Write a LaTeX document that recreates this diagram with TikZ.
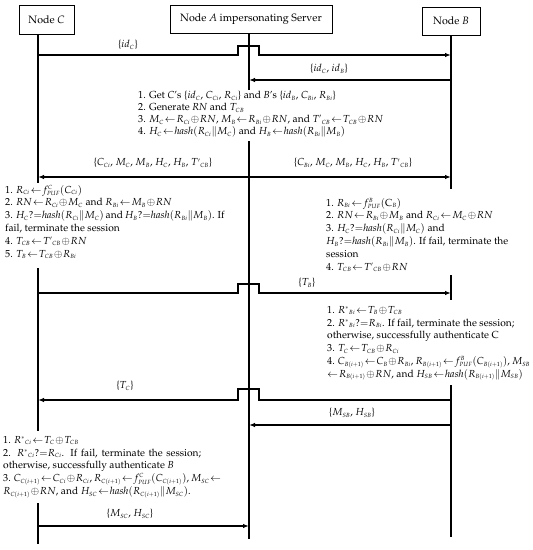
\documentclass[tikz,border=0pt]{standalone}
\usepackage[T1]{fontenc}
\usepackage{mathpazo}
\usetikzlibrary{arrows.meta}
\DeclareMathSizes{10.2}{10.2}{6}{4.7}
\thickmuskip=1.5mu plus 2mu
\medmuskip=1mu plus 1mu
\newcommand\tightls{\lineskiplimit=-20pt\relax}
\newcommand\Tp[1]{T'{}_{#1}}
\newcommand\Rs[1]{R^{*}{}_{#1}}
\tikzset{
  actor/.style={draw, line width=0.8pt, inner sep=0pt, font=\fontsize{10.7}{12}\selectfont},
  life/.style={line width=1.2pt},
  msg/.style={line width=1.2pt, -{Latex[length=6pt,width=4.5pt]}},
  dmsg/.style={line width=1.2pt, {Latex[length=6pt,width=4.5pt]}-{Latex[length=6pt,width=4.5pt]}},
  lbl/.style={inner sep=0pt, font=\fontsize{10.2}{11}\selectfont},
  txt/.style={inner sep=0pt, anchor=north west, align=left, font={\fontsize{10.2}{12.8}\selectfont\tightls}},
  txtb/.style={txt, font={\fontsize{10.2}{12}\selectfont\tightls}},
}
\begin{document}
\begin{tikzpicture}[x=1pt,y=-1pt]
\useasboundingbox (0,0) rectangle (533,550);
% actors
\node[actor, minimum width=55pt, minimum height=29pt] (C) at (46.5,19.5) {Node \textit{C}};
\node[actor, minimum width=162pt, minimum height=28pt] (A) at (251,19) {Node \textit{A} impersonating Server};
\node[actor, minimum width=58pt, minimum height=28pt] (B) at (451,21) {Node \textit{B}};
% lifeline coordinates
\coordinate (c1) at (38,183); \coordinate (c2) at (38,268); \coordinate (c3) at (38,431);
\coordinate (c4) at (38,503); \coordinate (c5) at (38,544);
\coordinate (a1) at (249,90); \coordinate (a2) at (249,141); \coordinate (a3) at (249,539);
\coordinate (b1) at (451,189); \coordinate (b2) at (451,275); \coordinate (b3) at (451,300);
\coordinate (b4) at (451,385); \coordinate (b5) at (451,537);
\draw[life] (C.south -| c1) -- (c1);
\draw[life] (c2) -- (c3);
\draw[life] (c4) -- (c5);
\draw[life] (A.south -| a1) -- (a1);
\draw[life] (a2) -- (a3);
\draw[life] (B.south -| b1) -- (b1);
\draw[life] (b2) -- (b3);
\draw[life] (b4) -- (b5);
% message endpoints
\coordinate (m1s) at (38,55); \coordinate (m1e) at (451,55);
\coordinate (m2s) at (451,80); \coordinate (m2e) at (249,80);
\coordinate (m3s) at (38,177); \coordinate (m3e) at (451,177);
\coordinate (m4s) at (38,293); \coordinate (m4e) at (451,293);
\coordinate (m5s) at (451,400); \coordinate (m5e) at (38,400);
\coordinate (m6s) at (451,425); \coordinate (m6e) at (249,425);
\coordinate (m7s) at (38,526); \coordinate (m7e) at (249,526);
% messages
\draw[msg] (m1s) -- (238,55) -- (238,46) -- (259,46) -- (259,55) -- (m1e);
\node[lbl] (l1) at (128,45) {\{$id_C$\}};
\draw[msg] (m2s) -- (m2e);
\node[lbl] (l2) at (329,69) {\{$id_C$, $id_B$\}};
\draw[dmsg] (m3s) -- (m3e);
\node[lbl] (l3a) at (153,163) {\{$C_{Ci}$, $M_C$, $M_B$, $H_C$, $H_B$, $\Tp{CB}$\}};
\node[lbl] (l3b) at (353,163) {\{$C_{Bi}$, $M_C$, $M_B$, $H_C$, $H_B$, $\Tp{CB}$\}};
\draw[msg] (m4s) -- (238,293) -- (238,284) -- (259,284) -- (259,293) -- (m4e);
\node[lbl] (l4) at (307,283) {\{$T_B$\}};
\draw[msg] (m5s) -- (259,400) -- (259,389) -- (238,389) -- (238,400) -- (m5e);
\node[lbl] (l5) at (125,386) {\{$T_C$\}};
\draw[msg] (m6s) -- (m6e);
\node[lbl] (l6) at (352,413) {\{$M_{SB}$, $H_{SB}$\}};
\draw[msg] (m7s) -- (m7e);
\node[lbl] (l7) at (130,514) {\{$M_{SC}$, $H_{SC}$\}};
% text blocks
\node[txtb] (t1) at (138,91) {%
1. Get \textit{C}'s \{$id_C$, $C_{Ci}$, $R_{Ci}$\} and \textit{B}'s \{$id_B$, $C_{Bi}$, $R_{Bi}$\}\\
2. Generate \textit{RN} and $T_{CB}$\\
3. $M_C\leftarrow R_{Ci}\oplus RN$, $M_B\leftarrow R_{Bi}\oplus RN$, and $\Tp{CB}\leftarrow T_{CB}\oplus RN$\\
4. $H_C\leftarrow \mathit{hash}(R_{Ci}\|M_C)$ and $H_B\leftarrow\mathit{hash}(R_{Bi}\|M_B)$};
\node[txt] (t2) at (5,185) {%
1. $R_{Ci}\leftarrow f^{C}_{PUF}(C_{Ci})$\\
2. $RN\leftarrow R_{Ci}\oplus M_C$ and $R_{Bi}\leftarrow M_B\oplus RN$\\
\makebox[214pt][s]{3. $H_C?{=}\mathit{hash}(R_{Ci}\|M_C)$ and $H_B?{=}\mathit{hash}(R_{Bi}\|M_B)$. If}\\
fail, terminate the session\\
4. $T_{CB}\leftarrow \Tp{CB}\oplus RN$\\
5. $T_B\leftarrow T_{CB}\oplus R_{Bi}$};
\node[txt] (t3) at (326,198) {%
1. $R_{Bi}\leftarrow f^{B}_{PUF}(\mathrm{C}_B)$\\
2. $RN\leftarrow R_{Bi}\oplus M_B$ and $R_{Ci}\leftarrow M_C\oplus RN$\\
3. $H_C?{=}\mathit{hash}(R_{Ci}\|M_C)$ and\\
$H_B?{=}\mathit{hash}(R_{Bi}\|M_B)$. If fail, terminate the\\
session\\
4. $T_{CB}\leftarrow \Tp{CB}\oplus RN$};
\node[txt] (t4) at (327,306) {%
1. $\Rs{Bi}\leftarrow T_B\oplus T_{CB}$\\
2. $\Rs{Bi}?{=}R_{Bi}$. If fail, terminate the session;\\
otherwise, successfully authenticate C\\
3. $T_C\leftarrow T_{CB}\oplus R_{Ci}$\\
\makebox[196pt][s]{4. $C_{B(i+1)}\leftarrow C_B\oplus R_{Bi}$, $R_{B(i+1)}\leftarrow f^{B}_{PUF}(C_{B(i+1)})$, $M_{SB}$}\\
$\leftarrow R_{B(i+1)}\oplus RN$, and $H_{SB}\leftarrow\mathit{hash}(R_{B(i+1)}\|M_{SB})$};
\node[txt] (t5) at (3,436) {%
1. $\Rs{Ci}\leftarrow T_C\oplus T_{CB}$\\
\makebox[198pt][s]{2. $\Rs{Ci}?{=}R_{Ci}$. If fail, terminate the session;}\\
otherwise, successfully authenticate \textit{B}\\
\makebox[198pt][s]{3. $C_{C(i+1)}\leftarrow C_{Ci}\oplus R_{Ci}$, $R_{C(i+1)}\leftarrow f^{C}_{PUF}(C_{C(i+1)})$, $M_{SC}\leftarrow$}\\
$R_{C(i+1)}\oplus RN$, and $H_{SC}\leftarrow\mathit{hash}(R_{C(i+1)}\|M_{SC})$.};
\end{tikzpicture}
\end{document}
